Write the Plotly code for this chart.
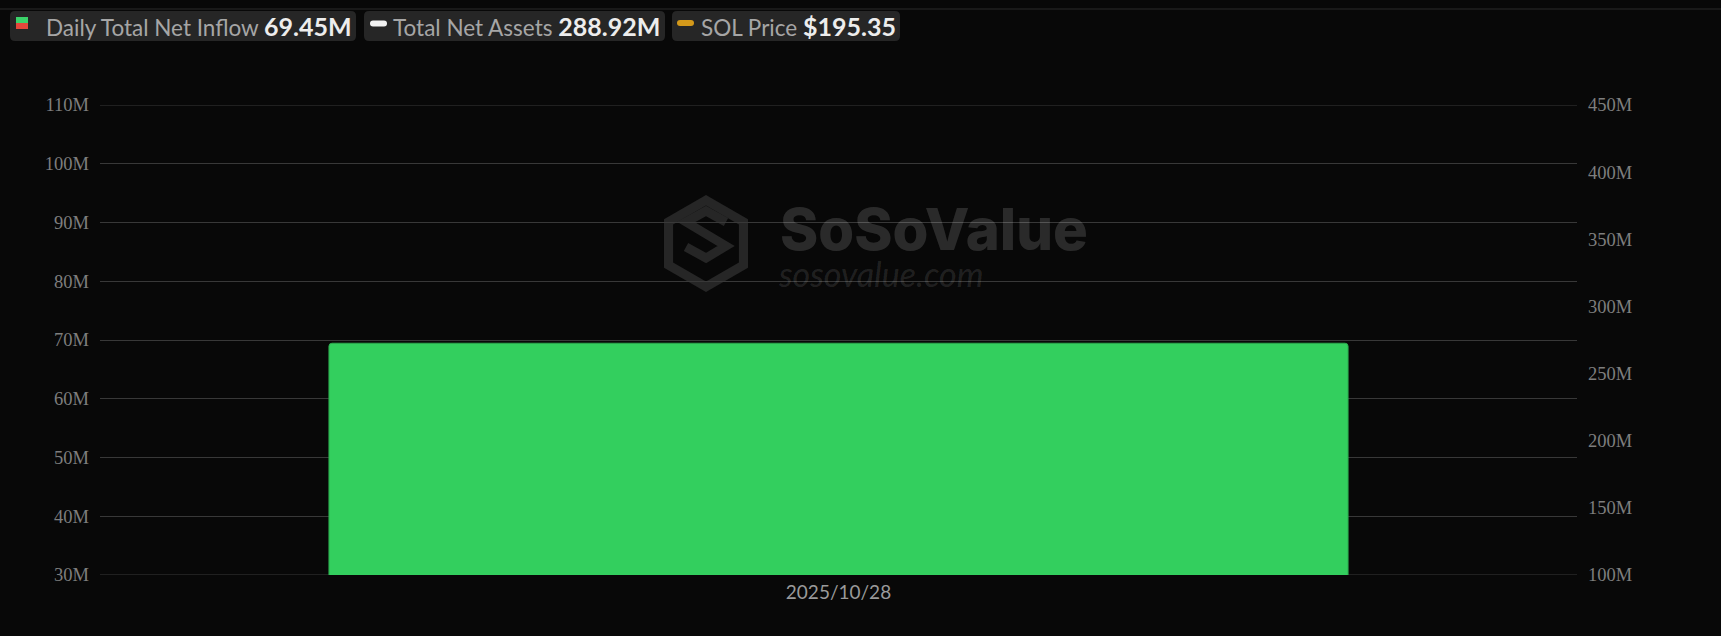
import math
import plotly.graph_objects as go

# ---------------- data ----------------
dates = ["2025/10/28"]
daily_net_inflow_m = [69.45]        # millions USD
total_net_assets_m = [288.92]       # millions USD
sol_price = [195.35]                # USD

left_range = [30, 110]
left_dtick = 10
right_range = [100, 450]
right_dtick = 50

legend_labels = ["Daily Total Net Inflow", "Total Net Assets", "SOL Price"]
legend_values = ["69.45M", "288.92M", "$195.35"]

# ---------------- geometry helpers (pixel -> paper) ----------------
W, H = 1721, 636
ML, MR, MT, MB = 100, 144, 105, 61
PW, PH = W - ML - MR, H - MT - MB


def px(x):
    return (x - ML) / PW


def py(y):
    return (H - MB - y) / PH


def rrect_path(x0, y0, x1, y1, r):
    X0, X1 = px(x0), px(x1)
    Y0, Y1 = py(y0), py(y1)
    rx, ry = r / PW, r / PH
    return (f"M{X0+rx},{Y0} L{X1-rx},{Y0} Q{X1},{Y0} {X1},{Y0-ry} "
            f"L{X1},{Y1+ry} Q{X1},{Y1} {X1-rx},{Y1} L{X0+rx},{Y1} "
            f"Q{X0},{Y1} {X0},{Y1+ry} L{X0},{Y0-ry} Q{X0},{Y0} {X0+rx},{Y0} Z")


def poly_path(points):
    s = "M" + " L".join(f"{px(x)},{py(y)}" for x, y in points)
    return s + " Z"


BG = "#080808"
GRID = "#383838"

fig = go.Figure()

fig.add_trace(go.Bar(
    x=dates, y=daily_net_inflow_m, name=legend_labels[0],
    marker=dict(color="#33CF5E", line=dict(color="#2CA84E", width=1)),
    width=0.69, showlegend=False, hoverinfo="x+y",
))
fig.add_trace(go.Scatter(
    x=dates, y=total_net_assets_m, name=legend_labels[1], yaxis="y2",
    mode="lines", line=dict(color="#ffffff", width=2), showlegend=False,
))
fig.add_trace(go.Scatter(
    x=dates, y=sol_price, name=legend_labels[2], yaxis="y2",
    mode="lines", line=dict(color="#D4991A", width=2), showlegend=False,
))

shapes = []
annotations = []

# gridlines at the two range ends (Plotly skips gridlines on the plot edges)
for yv in left_range:
    shapes.append(dict(type="line", xref="paper", yref="y", x0=0, x1=1, y0=yv, y1=yv,
                       line=dict(color=GRID, width=1), layer="below"))

# top separator line
shapes.append(dict(type="line", xref="paper", yref="paper",
                   x0=px(0), x1=px(W), y0=py(9), y1=py(9),
                   line=dict(color="#2a2a2a", width=1), layer="above"))

# legend boxes
boxes = [(10, 356), (364, 665), (672, 900)]
for (x0, x1) in boxes:
    shapes.append(dict(type="path", xref="paper", yref="paper",
                       path=rrect_path(x0, 11, x1, 41, 5),
                       fillcolor="#262626", line=dict(width=0), layer="above"))

# legend icons
shapes.append(dict(type="rect", xref="paper", yref="paper",
                   x0=px(16), x1=px(28), y0=py(17), y1=py(23),
                   fillcolor="#3BD36A", line=dict(width=0), layer="above"))
shapes.append(dict(type="rect", xref="paper", yref="paper",
                   x0=px(16), x1=px(28), y0=py(23), y1=py(29),
                   fillcolor="#E5483B", line=dict(width=0), layer="above"))
shapes.append(dict(type="path", xref="paper", yref="paper",
                   path=rrect_path(370, 20.5, 387, 26.5, 3),
                   fillcolor="#F2F2F2", line=dict(width=0), layer="above"))
shapes.append(dict(type="path", xref="paper", yref="paper",
                   path=rrect_path(677, 20, 694, 26, 3),
                   fillcolor="#D4991A", line=dict(width=0), layer="above"))

label_x = [44, 391, 699]
for lx, lab, val in zip(label_x, legend_labels, legend_values):
    annotations.append(dict(
        xref="paper", yref="paper", x=px(lx), y=py(26),
        xanchor="left", yanchor="middle", showarrow=False,
        text=(f"<span style='color:#A6A6A6'>{lab}</span> "
              f"<span style='color:#EDEDED;font-weight:bold;font-size:25px'>{val}</span>"),
        font=dict(family="Lato", size=22.5, color="#A6A6A6"),
    ))

# watermark logo (hexagon)
WM = "#262626"
cx, cy = 706, 243.5
R = 48.5
hex_outer = [(cx + R * math.sin(math.radians(a)), cy - R * math.cos(math.radians(a)))
             for a in range(0, 360, 60)]
Ri = 38
hex_inner = [(cx + Ri * math.sin(math.radians(a)), cy - Ri * math.cos(math.radians(a)))
             for a in range(0, 360, 60)]
shapes.append(dict(type="path", xref="paper", yref="paper", path=poly_path(hex_outer),
                   fillcolor=WM, line=dict(width=0), layer="below"))
shapes.append(dict(type="path", xref="paper", yref="paper", path=poly_path(hex_inner),
                   fillcolor=BG, line=dict(width=0), layer="below"))
s_pts = [(726, 222), (706, 211), (686, 222), (706, 234), (726, 246), (706, 258), (686, 247)]
shapes.append(dict(type="path", xref="paper", yref="paper",
                   path="M" + " L".join(f"{px(x)},{py(y)}" for x, y in s_pts),
                   line=dict(color=WM, width=9), layer="below"))

annotations.append(dict(
    xref="paper", yref="paper", x=px(778), y=py(229), xanchor="left", yanchor="middle",
    showarrow=False, text="SoSoValue",
    font=dict(family="Inter", size=58, color="rgba(255,255,255,0.14)", weight=800),
))
annotations.append(dict(
    xref="paper", yref="paper", x=px(776), y=py(273), xanchor="left", yanchor="middle",
    showarrow=False, text="sosovalue.com",
    font=dict(family="Lato", size=34, color="rgba(255,255,255,0.11)", style="italic"),
))

fig.update_layout(
    width=W, height=H,
    margin=dict(l=ML, r=MR, t=MT, b=MB, pad=0),
    paper_bgcolor=BG, plot_bgcolor="rgba(0,0,0,0)",
    showlegend=False,
    barcornerradius=3,
    xaxis=dict(
        type="category", showgrid=False, zeroline=False, showline=False,
        ticks="", tickfont=dict(family="Lato", size=19, color="#9A9A9A"),
        ticklabelstandoff=4,
    ),
    yaxis=dict(
        range=left_range, dtick=left_dtick, tick0=0, ticksuffix="M",
        showgrid=True, gridcolor=GRID, gridwidth=1, zeroline=False, showline=False,
        ticks="", tickfont=dict(family="Liberation Serif", size=18.5, color="#7E7E7E"),
        ticklabelstandoff=10,
    ),
    yaxis2=dict(
        range=right_range, dtick=right_dtick, tick0=0, ticksuffix="M",
        overlaying="y", side="right",
        showgrid=False, zeroline=False, showline=False,
        ticks="", tickfont=dict(family="Liberation Serif", size=18.5, color="#7E7E7E"),
        ticklabelstandoff=10,
    ),
    shapes=shapes,
    annotations=annotations,
)

fig.write_html(
    "out.html",
    config={"displayModeBar": False},
    post_script="document.body.style.margin='0';document.body.style.background='#080808';"
                "document.documentElement.style.background='#080808';",
)
